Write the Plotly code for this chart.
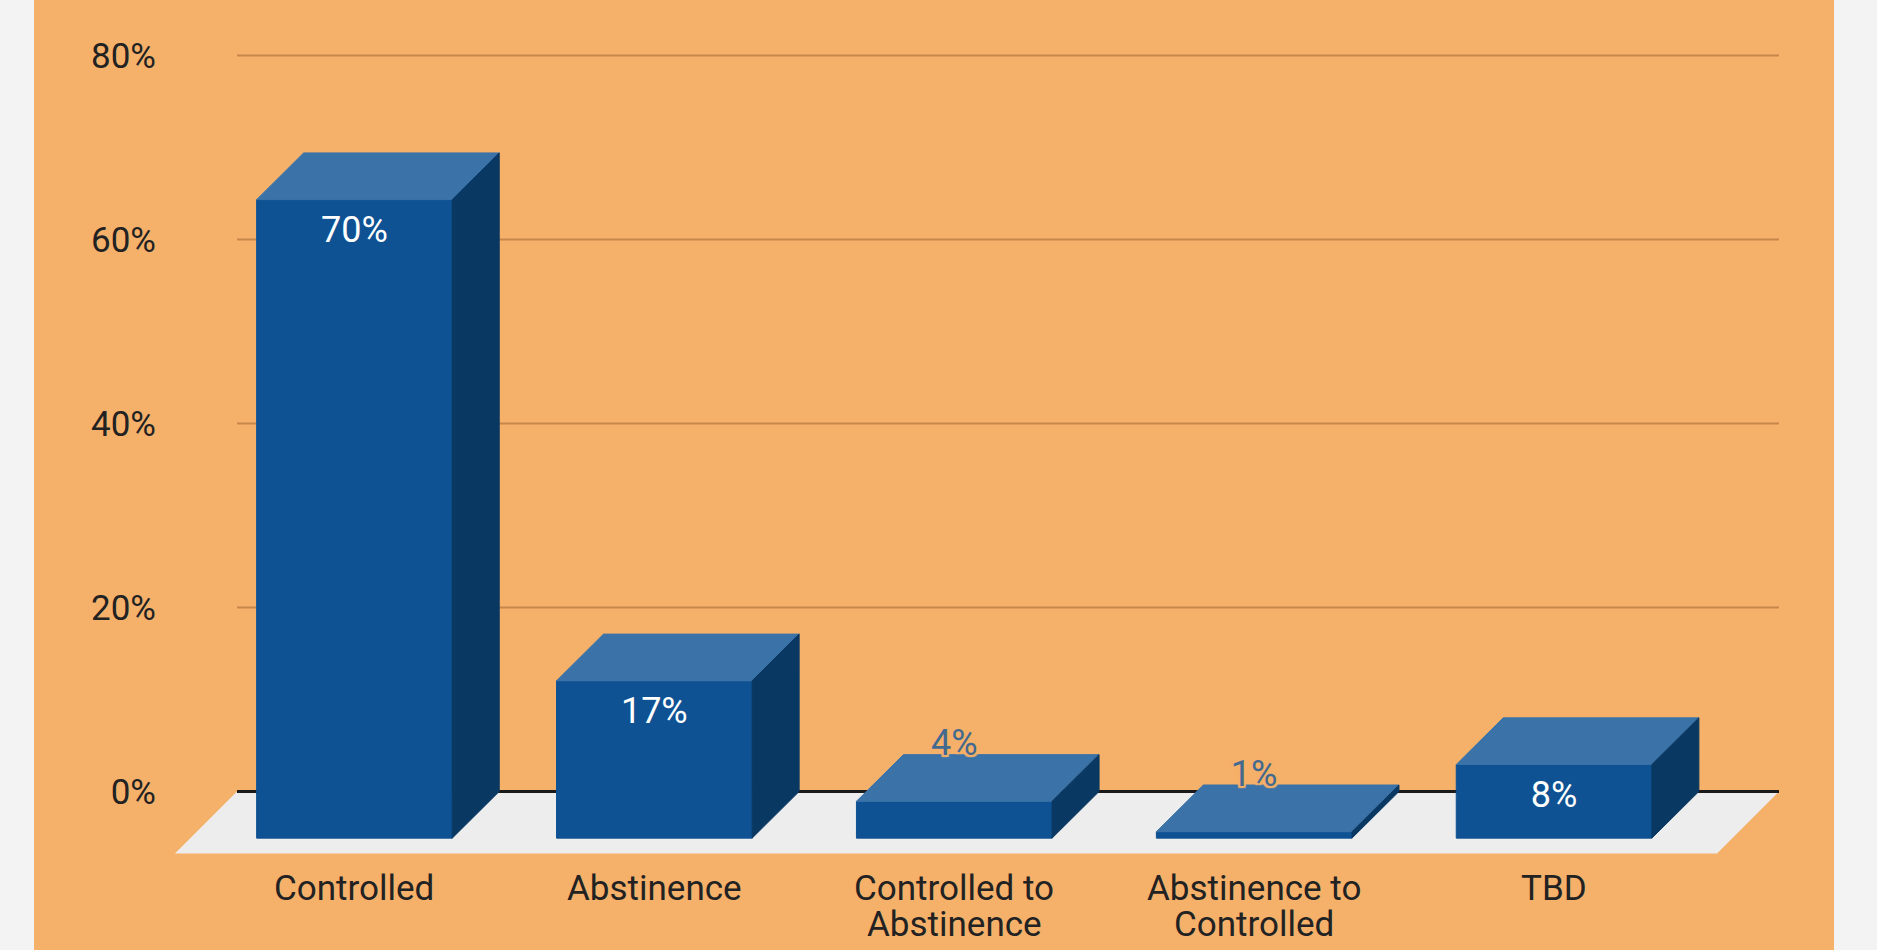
import plotly.graph_objects as go

# ---- data ----
categories = ["Controlled", "Abstinence", "Controlled to\nAbstinence", "Abstinence to\nControlled", "TBD"]
values = [69.4, 17.1, 4.0, 0.7, 8.0]
value_labels = ["70%", "17%", "4%", "1%", "8%"]
y_ticks = [0, 20, 40, 60, 80]
y_tick_labels = ["0%", "20%", "40%", "60%", "80%"]

# ---- style ----
ORANGE = "#f5b06a"
OUTER = "#f3f3f3"
FRONT = "#0e5293"
TOP = "#3b73a8"
SIDE = "#093863"
FLOOR = "#ededed"
GRID = "#c8874a"
TEXT = "#222222"
FONT = "Roboto"

W, H = 1877, 950
ML, MR, MT, MB = 175, 98, 37, 96
PW, PH = W - ML - MR, H - MT - MB
XR = [-0.755, 4.5933]
YR = [-6.8, 82]
px_x = PW / (XR[1] - XR[0])
px_y = PH / (YR[1] - YR[0])

HALF = 97.8 / px_x        # half bar width in x units
DX = 47 / px_x            # 3D depth offset (x)
DY = 46.7 / px_y          # 3D depth offset (y)
FDX = 62 / px_x           # floor depth
FDY = 62 / px_y
X_LEFT = -0.5483
X_RIGHT = XR[1]

fig = go.Figure()

def poly(xs, ys, color):
    fig.add_trace(go.Scatter(
        x=xs + [xs[0]], y=ys + [ys[0]], mode="lines", fill="toself",
        fillcolor=color, line=dict(color=color, width=1),
        hoverinfo="skip", showlegend=False))

for i, v in enumerate(values):
    xl, xr = i - HALF, i + HALF
    # front face
    poly([xl - DX, xr - DX, xr - DX, xl - DX], [-DY, -DY, v - DY, v - DY], FRONT)
    # top face
    poly([xl - DX, xl, xr, xr - DX], [v - DY, v, v, v - DY], TOP)
    # side face
    poly([xr - DX, xr, xr, xr - DX], [v - DY, v, 0, -DY], SIDE)

# value labels
in_x, in_y, in_t, out_x, out_y, out_t = [], [], [], [], [], []
for i, (v, t) in enumerate(zip(values, value_labels)):
    if v > 6:
        in_x.append(i - DX); in_y.append(v - DY - 33 / px_y); in_t.append(t)
    else:
        out_x.append(i - DX); out_y.append(v - DY + 55 / px_y); out_t.append(t)

fig.add_trace(go.Scatter(x=in_x, y=in_y, text=in_t, mode="text",
                         textposition="middle center",
                         textfont=dict(family=FONT, size=36, color="white"),
                         hoverinfo="skip", showlegend=False, cliponaxis=False))
halo = ", ".join(f"{a}px {b}px 1px {ORANGE}" for a in (-2, 0, 2) for b in (-2, 0, 2) if (a, b) != (0, 0))
fig.add_trace(go.Scatter(x=out_x, y=out_y, text=out_t, mode="text",
                         textposition="middle center",
                         textfont=dict(family=FONT, size=36, color="#43698f", shadow=halo),
                         hoverinfo="skip", showlegend=False, cliponaxis=False))

shapes = []
# orange panel
shapes.append(dict(type="rect", xref="paper", yref="paper",
                   x0=(34 - ML) / PW, x1=(1834 - ML) / PW,
                   y0=-MB / PH - 0.01, y1=1 + MT / PH + 0.01,
                   fillcolor=ORANGE, line=dict(width=0), layer="below"))
# floor
shapes.append(dict(type="path", xref="x", yref="y",
                   path=f"M {X_LEFT},0 L {X_RIGHT},0 L {X_RIGHT - FDX},{-FDY} L {X_LEFT - FDX},{-FDY} Z",
                   fillcolor=FLOOR, line=dict(width=0), layer="below"))
# gridlines
for t in y_ticks[1:]:
    shapes.append(dict(type="line", xref="x", yref="y", x0=X_LEFT, x1=X_RIGHT, y0=t, y1=t,
                       line=dict(color=GRID, width=2), layer="below"))
# zero line
shapes.append(dict(type="line", xref="x", yref="y", x0=X_LEFT, x1=X_RIGHT, y0=0, y1=0,
                   line=dict(color="#1a1a1a", width=3), layer="below"))

# category labels (two-line labels drawn as separate lines with tight spacing)
annotations = []
for i, c in enumerate(categories):
    for k, line in enumerate(c.split("\n")):
        pix = 889 + 35 * k
        annotations.append(dict(x=(i - DX - XR[0]) / (XR[1] - XR[0]), xref="paper",
                                y=1 - (pix - MT) / PH, yref="paper",
                                text=line, showarrow=False,
                                xanchor="center", yanchor="middle",
                                font=dict(family=FONT, size=35, color=TEXT)))

fig.update_layout(
    width=W, height=H,
    margin=dict(l=ML, r=MR, t=MT, b=MB),
    paper_bgcolor=OUTER, plot_bgcolor="rgba(0,0,0,0)",
    shapes=shapes, annotations=annotations,
    xaxis=dict(range=XR, showgrid=False, zeroline=False, showticklabels=False,
               showline=False, fixedrange=True),
    yaxis=dict(range=YR, showgrid=False, zeroline=False, showline=False,
               tickvals=y_ticks, ticktext=y_tick_labels, ticks="",
               tickfont=dict(family=FONT, size=35, color=TEXT),
               ticklabelstandoff=18, fixedrange=True),
    showlegend=False,
)

fig.write_html("out.html", config={"displayModeBar": False})
